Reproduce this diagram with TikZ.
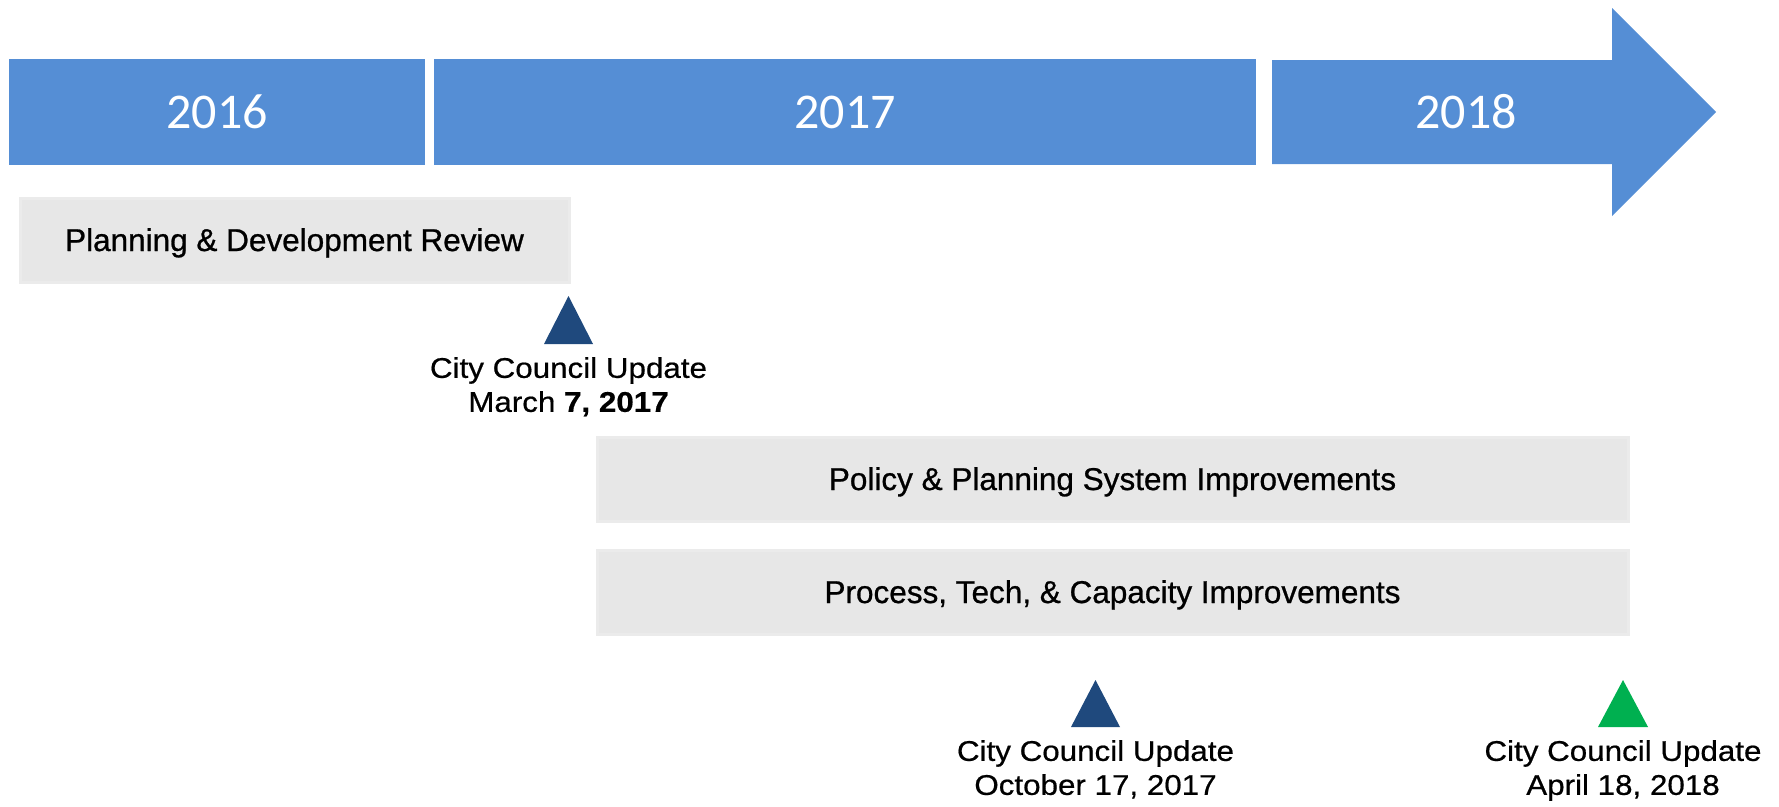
\documentclass[tikz,border=0pt]{standalone}
\usepackage{fontspec}
\setmainfont{Liberation Sans}
\newfontfamily\yearfont{Carlito}
\newfontfamily\taskfont[FakeBold=0.8]{Liberation Sans}
\newfontfamily\notefont[FakeStretch=1.1,FakeBold=0.6]{Liberation Sans}
\usetikzlibrary{positioning}
\definecolor{yearblue}{RGB}{85,142,213}
\definecolor{taskgray}{RGB}{231,231,231}
\definecolor{councilblue}{RGB}{31,73,125}
\definecolor{councilgreen}{RGB}{0,176,80}

\tikzset{
  yearbox/.style={fill=yearblue, text=white, inner sep=0pt, minimum height=106pt,
    font=\yearfont\fontsize{50}{60}\selectfont},
  taskbox/.style={fill=taskgray, draw=taskgray!85, line width=3pt, minimum height=84pt,
    text height=22pt, text depth=0pt, font=\taskfont\fontsize{31.5}{37}\selectfont},
  cclabel/.style={font=\notefont\fontsize{28.5}{34}\selectfont, align=center, inner sep=0pt}
}

\begin{document}
\begin{tikzpicture}[x=1pt,y=-1pt]

\useasboundingbox (0,0) rectangle (1779,806);

% timeline
\node[yearbox, minimum width=416pt] (y2016) at (217,112) {2016};
\node[yearbox, minimum width=822pt] (y2017) at (845,112) {2017};
\fill[yearblue] (1272,60) -- (1612,60) -- (1612,8) -- (1716,112) -- (1612,216) -- (1612,164) -- (1272,164) -- cycle;
\node[yearbox, fill=none] (y2018) at (1466,112) {2018};

% work streams
\node[taskbox, minimum width=549pt] (review) at (294.5,240) {Planning \& Development Review};
\node[taskbox, minimum width=1031pt] (policy) at (1112.5,479) {Policy \& Planning System Improvements};
\node[taskbox, minimum width=1031pt] (process) at (1112.5,592) {Process, Tech, \& Capacity Improvements};

% council updates
\coordinate (m1) at (568.5,344);
\coordinate (m2) at (1095.5,727);
\coordinate (m3) at (1623,727);

\fill[councilblue] (m1)++(-24.5,0) -- ++(24.5,-48) -- ++(24.5,48) -- cycle;
\fill[councilblue] (m2)++(-24.5,0) -- ++(24.5,-47) -- ++(24.5,47) -- cycle;
\fill[councilgreen] (m3)++(-25,0) -- ++(25,-47) -- ++(25,47) -- cycle;

\node[cclabel, below=13pt of m1] (update1) {City Council Update\\March \textbf{7, 2017}};
\node[cclabel, below=13pt of m2] (update2) {City Council Update\\October 17, 2017};
\node[cclabel, below=13pt of m3] (update3) {City Council Update\\April 18, 2018};

\end{tikzpicture}
\end{document}
